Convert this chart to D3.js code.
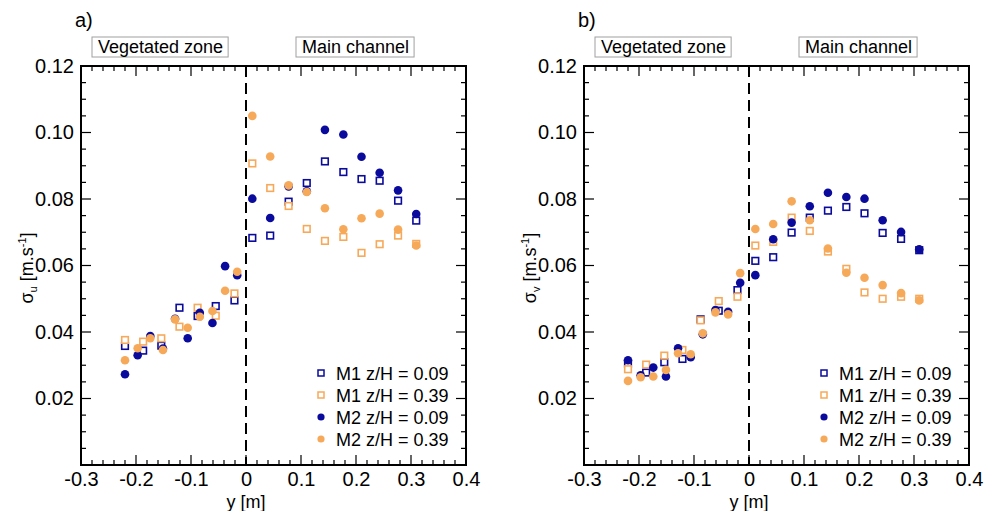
<!DOCTYPE html>
<html><head><meta charset="utf-8">
<script src="https://cdn.jsdelivr.net/npm/d3@7"></script>
<style>
body{margin:0;background:#fff;}
svg{display:block;font-family:"Liberation Sans",Arial,sans-serif;}
</style></head>
<body><svg id="c" width="987" height="511"></svg>
<script>
// ---- data ----
const xTicks = [-0.3,-0.2,-0.1,0,0.1,0.2,0.3,0.4];
const xTickLabels = ["-0.3","-0.2","-0.1","0","0.1","0.2","0.3","0.4"];
const yTicks = [0.02,0.04,0.06,0.08,0.10,0.12];
const yTickLabels = ["0.02","0.04","0.06","0.08","0.10","0.12"];
const zoneLabels = ["Vegetated zone","Main channel"];
const seriesNames = ["M1 z/H = 0.09","M1 z/H = 0.39","M2 z/H = 0.09","M2 z/H = 0.39"];

// positions across the channel (m)
const yM1 = [-0.22,-0.187,-0.154,-0.121,-0.088,-0.055,-0.021,
             0.0115,0.044,0.0775,0.1105,0.1435,0.177,0.21,0.243,0.2765,0.3095];
const yM2 = [-0.22,-0.197,-0.174,-0.151,-0.129,-0.106,-0.084,-0.061,-0.038,-0.016,
             0.0115,0.044,0.0775,0.1105,0.1435,0.177,0.21,0.243,0.2765,0.3095];

// panel a) sigma_u
const suM1z09 = [0.0358,0.0344,0.0359,0.0473,0.0448,0.0478,0.0495,
                 0.0683,0.0690,0.0792,0.0848,0.0913,0.0881,0.0860,0.0855,0.0795,0.0735];
const suM1z39 = [0.0376,0.0371,0.0381,0.0416,0.0473,0.0449,0.0516,
                 0.0907,0.0833,0.0779,0.0710,0.0674,0.0686,0.0638,0.0664,0.0690,0.0665];
const suM2z09 = [0.0273,0.0330,0.0388,0.0350,0.0440,0.0381,0.0458,0.0427,0.0598,0.0571,
                 0.0801,0.0743,0.0838,0.0823,0.1008,0.0994,0.0927,0.0879,0.0826,0.0755];
const suM2z39 = [0.0315,0.0351,0.0381,0.0346,0.0438,0.0413,0.0446,0.0463,0.0524,0.0581,
                 0.1050,0.0928,0.0841,0.0821,0.0772,0.0709,0.0742,0.0756,0.0708,0.0660];

// panel b) sigma_v
const svM1z09 = [0.0305,0.0278,0.0309,0.0319,0.0438,0.0464,0.0526,
                 0.0614,0.0625,0.0699,0.0744,0.0765,0.0776,0.0757,0.0698,0.0680,0.0646];
const svM1z39 = [0.0288,0.0302,0.0329,0.0346,0.0435,0.0493,0.0506,
                 0.0660,0.0671,0.0744,0.0704,0.0642,0.0590,0.0519,0.0500,0.0506,0.0500];
const svM2z09 = [0.0315,0.0270,0.0293,0.0266,0.0351,0.0324,0.0393,0.0466,0.0461,0.0548,
                 0.0571,0.0679,0.0729,0.0778,0.0819,0.0806,0.0801,0.0736,0.0701,0.0649];
const svM2z39 = [0.0253,0.0264,0.0266,0.0286,0.0336,0.0333,0.0396,0.0459,0.0453,0.0577,
                 0.0710,0.0725,0.0793,0.0736,0.0651,0.0578,0.0563,0.0541,0.0517,0.0495];

// ---- drawing ----
const BLUE = "#0A0A9C", ORANGE = "#F7A95A";
const svg = d3.select("#c");

const panels = [
  {x0:81, tag:"a)", sub:"u", data:[suM1z09,suM1z39,suM2z09,suM2z39]},
  {x0:584, tag:"b)", sub:"v", data:[svM1z09,svM1z39,svM2z09,svM2z39]}
];
const styles = [
  {shape:"sq", color:BLUE, xs:yM1},
  {shape:"sq", color:ORANGE, xs:yM1},
  {shape:"ci", color:BLUE, xs:yM2},
  {shape:"ci", color:ORANGE, xs:yM2}
];
const W = 385, TOP = 66, BOT = 465;

panels.forEach(p => {
  const x = d3.scaleLinear().domain([-0.3,0.4]).range([p.x0, p.x0+W]);
  const y = d3.scaleLinear().domain([0,0.12]).range([BOT, TOP]);
  const g = svg.append("g");

  // dashed divider at y = 0
  g.append("line").attr("x1",x(0)).attr("x2",x(0)).attr("y1",TOP).attr("y2",BOT)
    .attr("stroke","#000").attr("stroke-width",2).attr("stroke-dasharray","11,6");

  // ticks (inward)
  const xMinor = d3.range(-0.3,0.4001,0.02);
  const yMinor = d3.range(0,0.1201,0.005);
  xMinor.forEach(v => {
    const major = Math.abs(Math.round(v*10)-v*10)<1e-6;
    const L = major?10:5;
    g.append("line").attr("x1",x(v)).attr("x2",x(v)).attr("y1",BOT).attr("y2",BOT-L)
      .attr("stroke","#000").attr("stroke-width",1.2);
    g.append("line").attr("x1",x(v)).attr("x2",x(v)).attr("y1",TOP).attr("y2",TOP+L)
      .attr("stroke","#000").attr("stroke-width",1.2);
  });
  yMinor.forEach(v => {
    const major = Math.abs(Math.round(v*50)-v*50)<1e-6;
    const L = major?10:5;
    g.append("line").attr("x1",p.x0).attr("x2",p.x0+L).attr("y1",y(v)).attr("y2",y(v))
      .attr("stroke","#000").attr("stroke-width",1.2);
    g.append("line").attr("x1",p.x0+W).attr("x2",p.x0+W-L).attr("y1",y(v)).attr("y2",y(v))
      .attr("stroke","#000").attr("stroke-width",1.2);
  });

  // axes labels
  const xa = g.append("g").attr("transform",`translate(0,${BOT})`)
    .call(d3.axisBottom(x).tickValues(xTicks).tickFormat((d,i)=>xTickLabels[i]).tickSize(0).tickPadding(7));
  xa.select(".domain").remove();
  xa.selectAll("text").style("font-size","20px").style("font-family","Liberation Sans, Arial").attr("fill","#000");
  const ya = g.append("g").attr("transform",`translate(${p.x0},0)`)
    .call(d3.axisLeft(y).tickValues(yTicks).tickFormat((d,i)=>yTickLabels[i]).tickSize(0).tickPadding(7));
  ya.select(".domain").remove();
  ya.selectAll("text").style("font-size","20px").style("font-family","Liberation Sans, Arial").attr("fill","#000");

  // box
  g.append("rect").attr("x",p.x0).attr("y",TOP).attr("width",W).attr("height",BOT-TOP)
    .attr("fill","none").attr("stroke","#000").attr("stroke-width",2);

  // data
  p.data.forEach((vals,si) => {
    const st = styles[si];
    const pts = vals.map((v,i)=>({x:st.xs[i], v}));
    if (st.shape==="sq") {
      g.selectAll(null).data(pts).enter().append("rect")
        .attr("x",d=>x(d.x)-3.3).attr("y",d=>y(d.v)-3.3).attr("width",6.6).attr("height",6.6)
        .attr("fill","#fff").attr("stroke",st.color).attr("stroke-width",1.6);
    } else {
      g.selectAll(null).data(pts).enter().append("circle")
        .attr("cx",d=>x(d.x)).attr("cy",d=>y(d.v)).attr("r",4.3)
        .attr("fill",st.color);
    }
  });

  // zone labels
  const zl = [{cx:p.x0+11, t:zoneLabels[0]}, {cx:p.x0+215, t:zoneLabels[1]}];
  zl.forEach(z => {
    const zg = g.append("g");
    const bx = zg.append("rect");
    const t = zg.append("text").attr("x",z.cx+6).attr("y",53).style("font-size","18px").text(z.t);
    const bb = t.node().getBBox();
    bx.attr("x",z.cx).attr("y",37).attr("width",bb.width+11).attr("height",20)
      .attr("fill","#fff").attr("stroke","#a0a0a0").attr("stroke-width",1);
  });

  // panel tag
  g.append("text").attr("x",p.x0-6).attr("y",27).style("font-size","20px").text(p.tag);

  // y label
  const yl = g.append("text").attr("transform",`translate(${p.x0-48},268) rotate(-90)`)
    .attr("text-anchor","middle").style("font-size","18px");
  yl.append("tspan").text("σ");
  yl.append("tspan").style("font-size","11px").attr("dy",4).text(p.sub);
  yl.append("tspan").attr("dy",-4).text(" [m.s");
  yl.append("tspan").style("font-size","11px").attr("dy",-7).text("-1");
  yl.append("tspan").attr("dy",7).text("]");

  // x label
  g.append("text").attr("x",x(0)).attr("y",508).attr("text-anchor","middle")
    .style("font-size","18px").text("y [m]");

  // legend
  seriesNames.forEach((n,i) => {
    const ly = 373 + i*22, lx = p.x0+240;
    const st = styles[i];
    if (st.shape==="sq") {
      g.append("rect").attr("x",lx-3).attr("y",ly-3).attr("width",6).attr("height",6)
        .attr("fill","#fff").attr("stroke",st.color).attr("stroke-width",1.5);
    } else {
      g.append("circle").attr("cx",lx).attr("cy",ly).attr("r",3.6).attr("fill",st.color);
    }
    g.append("text").attr("x",lx+15).attr("y",ly+6.5).style("font-size","18px").text(n);
  });
});
</script></body></html>
